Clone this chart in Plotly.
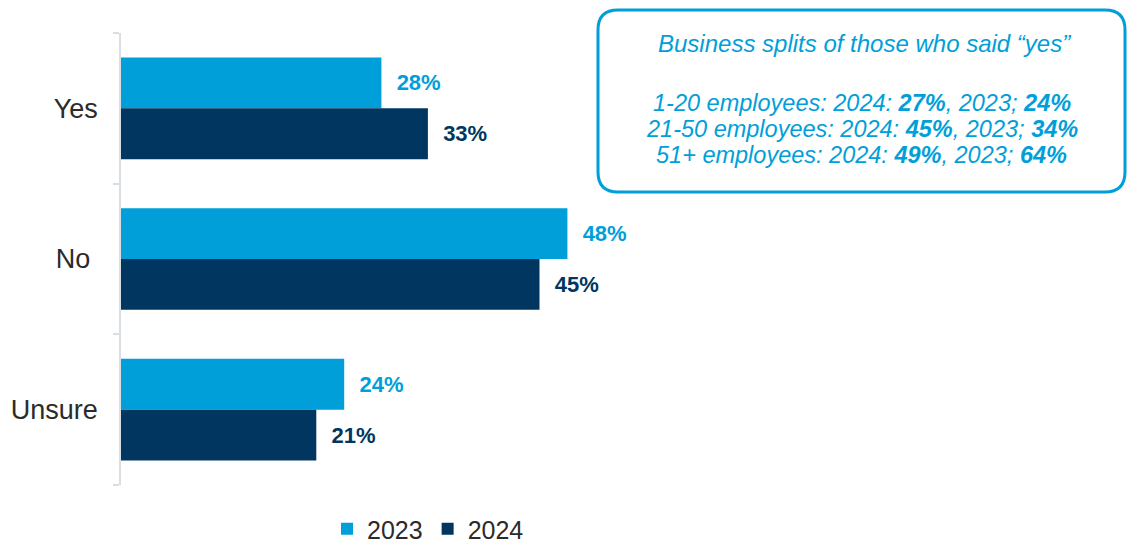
import plotly.graph_objects as go

# ---- data ----
categories = ["Yes", "No", "Unsure"]
category_ticktext = ["Yes", "No\u00a0", "Unsure"]
series_names = ["2023", "2024"]
values_2023 = [28, 48, 24]
values_2024 = [33, 45, 21]

box_title = "Business splits of those who said \u201cyes\u201d"
box_lines = [
    "1-20 employees: 2024: <b>27%</b>, 2023; <b>24%</b>",
    "21-50 employees: 2024: <b>45%</b>, 2023; <b>34%</b>",
    "51+ employees: 2024: <b>49%</b>, 2023; <b>64%</b>",
]

# ---- style ----
W, H = 1127, 544
ML, MR, MT, MB = 121, 0, 33, 59
PW, PH = W - ML - MR, H - MT - MB
LIGHT = "#009FDA"
NAVY = "#003660"
TEXT = "#2B2B2B"
FONT = "Liberation Sans, Arial, sans-serif"


def px_x(px):
    return (px - ML) / PW


def px_y(py):
    return (H - MB - py) / PH


fig = go.Figure()
for name, vals, col in [(series_names[0], values_2023, LIGHT), (series_names[1], values_2024, NAVY)]:
    fig.add_trace(go.Bar(
        name=name, y=categories, x=vals, orientation="h",
        marker=dict(color=col, line=dict(width=0)),
        texttemplate="\u00a0\u00a0%{x}%", textposition="outside",
        textfont=dict(family=FONT, size=22, color=col, weight="bold"),
        cliponaxis=False,
    ))

# rounded box
bx0, bx1, by0, by1, r = 598, 1125, 10, 192, 20
cx, cy = (bx0 + bx1) / 2, (by0 + by1) / 2
w, h = (bx1 - bx0) / 2, (by1 - by0) / 2
path = (f"M{-w+r},{-h} L{w-r},{-h} Q{w},{-h} {w},{-h+r} L{w},{h-r} Q{w},{h} {w-r},{h} "
        f"L{-w+r},{h} Q{-w},{h} {-w},{h-r} L{-w},{-h+r} Q{-w},{-h} {-w+r},{-h} Z")
fig.add_shape(type="path", path=path, xref="paper", yref="paper",
              xsizemode="pixel", ysizemode="pixel",
              xanchor=px_x(cx), yanchor=px_y(cy),
              line=dict(color=LIGHT, width=3), fillcolor="rgba(0,0,0,0)")

fig.add_annotation(text=box_title, xref="paper", yref="paper",
                   x=px_x(864), y=px_y(44), xanchor="center", yanchor="middle",
                   showarrow=False,
                   font=dict(family=FONT, size=24, color=LIGHT, style="italic"))
for line, py in zip(box_lines, [103, 129, 155]):
    fig.add_annotation(text=line, xref="paper", yref="paper",
                       x=px_x(861.5), y=px_y(py), xanchor="center", yanchor="middle",
                       showarrow=False,
                       font=dict(family=FONT, size=23.5, color=LIGHT, style="italic"))

fig.update_layout(
    width=W, height=H,
    margin=dict(l=ML, r=MR, t=MT, b=MB, autoexpand=False),
    paper_bgcolor="white", plot_bgcolor="white",
    barmode="group", bargap=0.325, bargroupgap=0,
    font=dict(family=FONT, color=TEXT),
    showlegend=True,
    legend=dict(orientation="h", traceorder="normal",
                x=px_x(428), y=px_y(529), xanchor="center", yanchor="middle",
                font=dict(family=FONT, size=25, color=TEXT),
                itemwidth=30, bgcolor="rgba(0,0,0,0)"),
    xaxis=dict(range=[0, PW / 9.3], visible=False, showgrid=False, zeroline=False),
    yaxis=dict(categoryorder="array", categoryarray=categories,
               tickmode="array", tickvals=categories, ticktext=category_ticktext,
               range=[2.5, -0.5], showline=True, linecolor="#D9DEE3", linewidth=1.5,
               ticks="outside", tickson="boundaries", ticklen=6, tickcolor="#D9DEE3",
               tickwidth=1.5, ticklabelstandoff=16,
               tickfont=dict(family=FONT, size=27, color=TEXT),
               showgrid=False, zeroline=False),
)

fig.write_html("out.html", config={"displayModeBar": False},
               post_script="document.body.style.margin='0';")
